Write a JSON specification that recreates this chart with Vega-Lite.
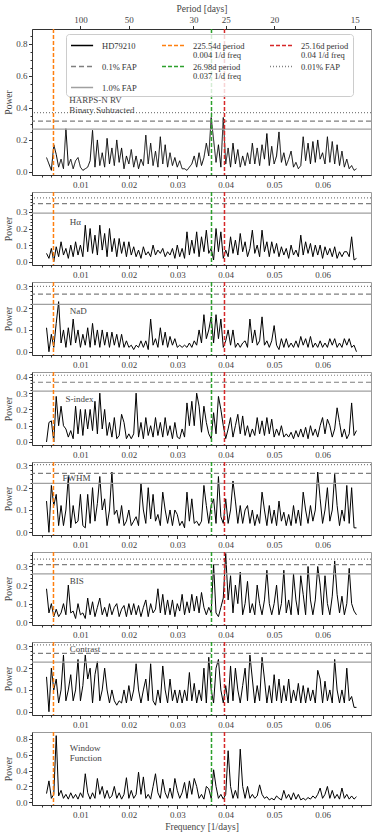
{
"$schema":"https://vega.github.io/schema/vega-lite/v6.json",
"padding":{"left":3,"top":2,"right":2,"bottom":4},
"datasets":{
"pg":[
{"f":0.003,"rv":0.09,"ha":0.05,"na":0.11,"si":0,"fw":0.14,"bi":0.18,"co":0.16,"wf":0.11},
{"f":0.0035,"rv":0.05,"ha":0.02,"na":0,"si":0.12,"fw":0,"bi":0.05,"co":0,"wf":0.27},
{"f":0.004,"rv":0.01,"ha":0.08,"na":0.08,"si":0.13,"fw":0.21,"bi":0.1,"co":0.2,"wf":0.05},
{"f":0.0045,"rv":0.17,"ha":0,"na":0.02,"si":0,"fw":0.12,"bi":0.03,"co":0.1,"wf":0.1},
{"f":0.005,"rv":0.11,"ha":0.09,"na":0.13,"si":0.28,"fw":0.17,"bi":0.07,"co":0.15,"wf":0.84},
{"f":0.0055,"rv":0.03,"ha":0.03,"na":0.23,"si":0.1,"fw":0.03,"bi":0.03,"co":0.04,"wf":0.08},
{"f":0.006,"rv":0.08,"ha":0.12,"na":0.04,"si":0.22,"fw":0.12,"bi":0.05,"co":0.1,"wf":0.15},
{"f":0.0065,"rv":0.02,"ha":0.04,"na":0.1,"si":0.1,"fw":0.03,"bi":0.1,"co":0.26,"wf":0.05},
{"f":0.007,"rv":0.27,"ha":0.08,"na":0.02,"si":0.08,"fw":0.1,"bi":0.04,"co":0.05,"wf":0.1},
{"f":0.0075,"rv":0.04,"ha":0.02,"na":0.11,"si":0.03,"fw":0.25,"bi":0.2,"co":0.1,"wf":0.04},
{"f":0.008,"rv":0.08,"ha":0.1,"na":0.03,"si":0.07,"fw":0.02,"bi":0.05,"co":0.17,"wf":0.12},
{"f":0.0085,"rv":0.02,"ha":0.03,"na":0.15,"si":0.02,"fw":0.12,"bi":0.06,"co":0.05,"wf":0.05},
{"f":0.009,"rv":0.07,"ha":0.12,"na":0.04,"si":0.22,"fw":0.04,"bi":0.02,"co":0.1,"wf":0.1},
{"f":0.0095,"rv":0.09,"ha":0.04,"na":0.1,"si":0.05,"fw":0.05,"bi":0.1,"co":0.24,"wf":0.04},
{"f":0.01,"rv":0.03,"ha":0.1,"na":0.02,"si":0.2,"fw":0.17,"bi":0.04,"co":0.05,"wf":0.12},
{"f":0.0105,"rv":0.01,"ha":0.03,"na":0.08,"si":0.04,"fw":0.03,"bi":0.05,"co":0.12,"wf":0.06},
{"f":0.011,"rv":0.02,"ha":0.22,"na":0.03,"si":0.2,"fw":0.02,"bi":0.02,"co":0.26,"wf":0.36},
{"f":0.0115,"rv":0.03,"ha":0.06,"na":0.11,"si":0.08,"fw":0.17,"bi":0.13,"co":0.15,"wf":0.12},
{"f":0.012,"rv":0.07,"ha":0.2,"na":0.02,"si":0.2,"fw":0.04,"bi":0.04,"co":0.2,"wf":0.04},
{"f":0.0125,"rv":0.26,"ha":0.05,"na":0.13,"si":0.07,"fw":0.2,"bi":0.11,"co":0.04,"wf":0.12},
{"f":0.013,"rv":0.03,"ha":0.16,"na":0.03,"si":0.25,"fw":0.05,"bi":0.03,"co":0.17,"wf":0.05},
{"f":0.0135,"rv":0.2,"ha":0.04,"na":0.1,"si":0.05,"fw":0.13,"bi":0.08,"co":0.23,"wf":0.3},
{"f":0.014,"rv":0.04,"ha":0.22,"na":0.02,"si":0.3,"fw":0.25,"bi":0.13,"co":0.05,"wf":0.1},
{"f":0.0145,"rv":0.12,"ha":0.07,"na":0.1,"si":0.08,"fw":0.1,"bi":0.04,"co":0.1,"wf":0.2},
{"f":0.015,"rv":0.03,"ha":0.17,"na":0.03,"si":0.2,"fw":0.15,"bi":0.08,"co":0.2,"wf":0.05},
{"f":0.0155,"rv":0.21,"ha":0.03,"na":0.09,"si":0.04,"fw":0.03,"bi":0.03,"co":0.1,"wf":0.15},
{"f":0.016,"rv":0.05,"ha":0.2,"na":0.02,"si":0.12,"fw":0.1,"bi":0.1,"co":0.04,"wf":0.05},
{"f":0.0165,"rv":0.15,"ha":0.06,"na":0.09,"si":0.03,"fw":0.27,"bi":0.04,"co":0.1,"wf":0.08},
{"f":0.017,"rv":0.04,"ha":0.14,"na":0.03,"si":0.15,"fw":0.08,"bi":0.08,"co":0.05,"wf":0.2},
{"f":0.0175,"rv":0.2,"ha":0.03,"na":0.08,"si":0.02,"fw":0.1,"bi":0.1,"co":0.03,"wf":0.05},
{"f":0.018,"rv":0.06,"ha":0.14,"na":0.02,"si":0.04,"fw":0.04,"bi":0.03,"co":0.05,"wf":0.12},
{"f":0.0185,"rv":0.15,"ha":0.05,"na":0.08,"si":0.17,"fw":0.12,"bi":0.07,"co":0.04,"wf":0.04},
{"f":0.019,"rv":0.02,"ha":0.12,"na":0.02,"si":0.12,"fw":0.03,"bi":0.09,"co":0.1,"wf":0.1},
{"f":0.0195,"rv":0.1,"ha":0.03,"na":0.05,"si":0.02,"fw":0.05,"bi":0.03,"co":0.04,"wf":0.31},
{"f":0.02,"rv":0.05,"ha":0.12,"na":0.02,"si":0.05,"fw":0.1,"bi":0.1,"co":0.12,"wf":0.05},
{"f":0.0205,"rv":0.14,"ha":0.04,"na":0.03,"si":0.02,"fw":0.03,"bi":0.04,"co":0.05,"wf":0.15},
{"f":0.021,"rv":0.03,"ha":0.09,"na":0.01,"si":0.05,"fw":0.05,"bi":0.1,"co":0.1,"wf":0.05},
{"f":0.0215,"rv":0.1,"ha":0.03,"na":0.03,"si":0.3,"fw":0.07,"bi":0.04,"co":0.22,"wf":0.1},
{"f":0.022,"rv":0.02,"ha":0.07,"na":0.02,"si":0.03,"fw":0.03,"bi":0.09,"co":0.1,"wf":0.38},
{"f":0.0225,"rv":0.08,"ha":0.02,"na":0.05,"si":0.12,"fw":0.22,"bi":0.03,"co":0.04,"wf":0.1},
{"f":0.023,"rv":0.04,"ha":0.09,"na":0.02,"si":0.02,"fw":0.1,"bi":0.08,"co":0.1,"wf":0.32},
{"f":0.0235,"rv":0.23,"ha":0.04,"na":0.05,"si":0.15,"fw":0.04,"bi":0.12,"co":0.15,"wf":0.05},
{"f":0.024,"rv":0.05,"ha":0.06,"na":0.01,"si":0.04,"fw":0.2,"bi":0.03,"co":0.05,"wf":0.1},
{"f":0.0245,"rv":0.18,"ha":0.03,"na":0.15,"si":0.1,"fw":0.06,"bi":0.1,"co":0.22,"wf":0.04},
{"f":0.025,"rv":0.04,"ha":0.1,"na":0.03,"si":0.03,"fw":0.17,"bi":0.05,"co":0.05,"wf":0.2},
{"f":0.0255,"rv":0.13,"ha":0.04,"na":0.06,"si":0.15,"fw":0.05,"bi":0.07,"co":0.03,"wf":0.36},
{"f":0.026,"rv":0.03,"ha":0.07,"na":0.02,"si":0.04,"fw":0.08,"bi":0.18,"co":0.1,"wf":0.12},
{"f":0.0265,"rv":0.22,"ha":0.05,"na":0.11,"si":0.12,"fw":0.03,"bi":0.05,"co":0.04,"wf":0.05},
{"f":0.027,"rv":0.05,"ha":0.08,"na":0.03,"si":0.03,"fw":0.18,"bi":0.15,"co":0.21,"wf":0.29},
{"f":0.0275,"rv":0.17,"ha":0.03,"na":0.09,"si":0.15,"fw":0.1,"bi":0.04,"co":0.1,"wf":0.12},
{"f":0.028,"rv":0.03,"ha":0.06,"na":0.02,"si":0.04,"fw":0.04,"bi":0.12,"co":0.04,"wf":0.05},
{"f":0.0285,"rv":0.12,"ha":0.04,"na":0.07,"si":0.1,"fw":0.1,"bi":0.04,"co":0.15,"wf":0.18},
{"f":0.029,"rv":0.04,"ha":0.08,"na":0.03,"si":0.02,"fw":0.03,"bi":0.12,"co":0.05,"wf":0.05},
{"f":0.0295,"rv":0.09,"ha":0.02,"na":0.06,"si":0.12,"fw":0.1,"bi":0.03,"co":0.1,"wf":0.3},
{"f":0.03,"rv":0.03,"ha":0.1,"na":0.02,"si":0.03,"fw":0.08,"bi":0.1,"co":0.04,"wf":0.15},
{"f":0.0305,"rv":0.07,"ha":0.03,"na":0.03,"si":0.02,"fw":0.03,"bi":0.06,"co":0.1,"wf":0.05},
{"f":0.031,"rv":0.02,"ha":0.08,"na":0.02,"si":0.08,"fw":0.05,"bi":0.15,"co":0.04,"wf":0.12},
{"f":0.0315,"rv":0.02,"ha":0.02,"na":0.03,"si":0.03,"fw":0.02,"bi":0.04,"co":0.1,"wf":0.25},
{"f":0.032,"rv":0.01,"ha":0.18,"na":0.02,"si":0.24,"fw":0.18,"bi":0.11,"co":0.05,"wf":0.05},
{"f":0.0325,"rv":0.03,"ha":0.04,"na":0.04,"si":0.1,"fw":0.05,"bi":0.05,"co":0.18,"wf":0.27},
{"f":0.033,"rv":0.05,"ha":0.13,"na":0.02,"si":0.25,"fw":0.15,"bi":0.15,"co":0.05,"wf":0.1},
{"f":0.0335,"rv":0.1,"ha":0.05,"na":0.05,"si":0.1,"fw":0.04,"bi":0.06,"co":0.13,"wf":0.3},
{"f":0.034,"rv":0.03,"ha":0.18,"na":0.03,"si":0.3,"fw":0.05,"bi":0.14,"co":0.04,"wf":0.2},
{"f":0.0345,"rv":0.12,"ha":0.03,"na":0.1,"si":0.22,"fw":0.03,"bi":0.05,"co":0.1,"wf":0.05},
{"f":0.035,"rv":0.04,"ha":0.15,"na":0.04,"si":0.06,"fw":0.05,"bi":0.16,"co":0.05,"wf":0.1},
{"f":0.0355,"rv":0.09,"ha":0.06,"na":0.17,"si":0.22,"fw":0.21,"bi":0.08,"co":0.2,"wf":0.04},
{"f":0.036,"rv":0.18,"ha":0.19,"na":0.06,"si":0.12,"fw":0.12,"bi":0.04,"co":0.04,"wf":0.2},
{"f":0.0365,"rv":0.1,"ha":0.05,"na":0.1,"si":0.05,"fw":0.04,"bi":0.08,"co":0.25,"wf":0.17},
{"f":0.037,"rv":0.34,"ha":0.08,"na":0.16,"si":0.02,"fw":0.12,"bi":0.05,"co":0.1,"wf":0.05},
{"f":0.0375,"rv":0.2,"ha":0.01,"na":0.04,"si":0.18,"fw":0.15,"bi":0.31,"co":0.04,"wf":0.41},
{"f":0.038,"rv":0.06,"ha":0.2,"na":0.17,"si":0.05,"fw":0.04,"bi":0.05,"co":0.2,"wf":0.2},
{"f":0.0385,"rv":0.17,"ha":0.06,"na":0.06,"si":0.28,"fw":0.25,"bi":0.03,"co":0.24,"wf":0.05},
{"f":0.039,"rv":0.03,"ha":0.18,"na":0.15,"si":0.2,"fw":0.07,"bi":0.08,"co":0.1,"wf":0.1},
{"f":0.0395,"rv":0.34,"ha":0.02,"na":0.02,"si":0.1,"fw":0.04,"bi":0.13,"co":0.04,"wf":0.04},
{"f":0.04,"rv":0.05,"ha":0.07,"na":0.05,"si":0.02,"fw":0.15,"bi":0.37,"co":0.12,"wf":0.1},
{"f":0.0405,"rv":0.15,"ha":0.03,"na":0.1,"si":0.08,"fw":0.04,"bi":0.12,"co":0.04,"wf":0.65},
{"f":0.041,"rv":0.03,"ha":0.15,"na":0.03,"si":0.15,"fw":0.1,"bi":0.25,"co":0.21,"wf":0.2},
{"f":0.0415,"rv":0.18,"ha":0.05,"na":0.1,"si":0.03,"fw":0.23,"bi":0.05,"co":0.05,"wf":0.05},
{"f":0.042,"rv":0.05,"ha":0.13,"na":0.02,"si":0.1,"fw":0.14,"bi":0.2,"co":0.2,"wf":0.15},
{"f":0.0425,"rv":0.14,"ha":0.04,"na":0.04,"si":0.17,"fw":0.04,"bi":0.1,"co":0.1,"wf":0.05},
{"f":0.043,"rv":0.03,"ha":0.17,"na":0.02,"si":0.05,"fw":0.12,"bi":0.27,"co":0.04,"wf":0.67},
{"f":0.0435,"rv":0.1,"ha":0.06,"na":0.04,"si":0.16,"fw":0.04,"bi":0.04,"co":0.12,"wf":0.2},
{"f":0.044,"rv":0.04,"ha":0.12,"na":0.05,"si":0.04,"fw":0.1,"bi":0.1,"co":0.2,"wf":0.05},
{"f":0.0445,"rv":0.12,"ha":0.03,"na":0.02,"si":0.1,"fw":0.12,"bi":0.22,"co":0.05,"wf":0.2},
{"f":0.045,"rv":0.05,"ha":0.08,"na":0.15,"si":0.03,"fw":0.04,"bi":0.05,"co":0.26,"wf":0.05},
{"f":0.0455,"rv":0.18,"ha":0.19,"na":0.04,"si":0.08,"fw":0.1,"bi":0.1,"co":0.15,"wf":0.1},
{"f":0.046,"rv":0.05,"ha":0.05,"na":0.1,"si":0.04,"fw":0.03,"bi":0.04,"co":0.04,"wf":0.05},
{"f":0.0465,"rv":0.15,"ha":0.1,"na":0.03,"si":0.15,"fw":0.08,"bi":0.2,"co":0.12,"wf":0.08},
{"f":0.047,"rv":0.04,"ha":0.03,"na":0.05,"si":0.05,"fw":0.04,"bi":0.1,"co":0.05,"wf":0.22},
{"f":0.0475,"rv":0.17,"ha":0.19,"na":0.16,"si":0.13,"fw":0.18,"bi":0.04,"co":0.25,"wf":0.1},
{"f":0.048,"rv":0.08,"ha":0.06,"na":0.03,"si":0.04,"fw":0.1,"bi":0.12,"co":0.15,"wf":0.05},
{"f":0.0485,"rv":0.24,"ha":0.12,"na":0.05,"si":0.15,"fw":0.03,"bi":0.28,"co":0.04,"wf":0.07},
{"f":0.049,"rv":0.04,"ha":0.03,"na":0.02,"si":0.05,"fw":0.12,"bi":0.1,"co":0.12,"wf":0.03},
{"f":0.0495,"rv":0.16,"ha":0.12,"na":0.05,"si":0.14,"fw":0.04,"bi":0.04,"co":0.04,"wf":0.05},
{"f":0.05,"rv":0.05,"ha":0.05,"na":0.12,"si":0.03,"fw":0.1,"bi":0.1,"co":0.17,"wf":0.03},
{"f":0.0505,"rv":0.1,"ha":0.11,"na":0.03,"si":0.08,"fw":0.03,"bi":0.2,"co":0.05,"wf":0.08},
{"f":0.051,"rv":0.25,"ha":0.03,"na":0.01,"si":0.04,"fw":0.14,"bi":0.04,"co":0.15,"wf":0.05},
{"f":0.0515,"rv":0.06,"ha":0.09,"na":0.06,"si":0.1,"fw":0.05,"bi":0.1,"co":0.04,"wf":0.03},
{"f":0.052,"rv":0.12,"ha":0.04,"na":0.02,"si":0.03,"fw":0.09,"bi":0.28,"co":0.12,"wf":0.15},
{"f":0.0525,"rv":0.04,"ha":0.08,"na":0.06,"si":0.05,"fw":0.03,"bi":0.05,"co":0.05,"wf":0.05},
{"f":0.053,"rv":0.08,"ha":0.02,"na":0.02,"si":0.03,"fw":0.08,"bi":0.12,"co":0.15,"wf":0.1},
{"f":0.0535,"rv":0.13,"ha":0.1,"na":0.04,"si":0.06,"fw":0.03,"bi":0.04,"co":0.04,"wf":0.03},
{"f":0.054,"rv":0.03,"ha":0.04,"na":0.02,"si":0.02,"fw":0.12,"bi":0.26,"co":0.1,"wf":0.12},
{"f":0.0545,"rv":0.06,"ha":0.07,"na":0.05,"si":0.07,"fw":0.04,"bi":0.12,"co":0.05,"wf":0.04},
{"f":0.055,"rv":0.02,"ha":0.03,"na":0.02,"si":0.03,"fw":0.1,"bi":0.04,"co":0.13,"wf":0.1},
{"f":0.0555,"rv":0.04,"ha":0.16,"na":0.07,"si":0.08,"fw":0.03,"bi":0.25,"co":0.04,"wf":0.03},
{"f":0.056,"rv":0.22,"ha":0.04,"na":0.03,"si":0.03,"fw":0.18,"bi":0.15,"co":0.12,"wf":0.05},
{"f":0.0565,"rv":0.07,"ha":0.12,"na":0.06,"si":0.09,"fw":0.1,"bi":0.04,"co":0.04,"wf":0.03},
{"f":0.057,"rv":0.18,"ha":0.05,"na":0.02,"si":0.02,"fw":0.04,"bi":0.3,"co":0.11,"wf":0.06},
{"f":0.0575,"rv":0.05,"ha":0.11,"na":0.07,"si":0.1,"fw":0.12,"bi":0.12,"co":0.05,"wf":0.04},
{"f":0.058,"rv":0.19,"ha":0.03,"na":0.02,"si":0.04,"fw":0.05,"bi":0.04,"co":0.1,"wf":0.08},
{"f":0.0585,"rv":0.06,"ha":0.1,"na":0.04,"si":0.08,"fw":0.1,"bi":0.12,"co":0.04,"wf":0.05},
{"f":0.059,"rv":0.2,"ha":0.04,"na":0.02,"si":0.03,"fw":0.27,"bi":0.3,"co":0.19,"wf":0.1},
{"f":0.0595,"rv":0.08,"ha":0.1,"na":0.05,"si":0.1,"fw":0.15,"bi":0.2,"co":0.15,"wf":0.18},
{"f":0.06,"rv":0.12,"ha":0.02,"na":0.02,"si":0.15,"fw":0.04,"bi":0.04,"co":0.04,"wf":0.05},
{"f":0.0605,"rv":0.05,"ha":0.09,"na":0.04,"si":0.05,"fw":0.1,"bi":0.25,"co":0.14,"wf":0.1},
{"f":0.061,"rv":0.22,"ha":0.04,"na":0.02,"si":0.14,"fw":0.2,"bi":0.1,"co":0.05,"wf":0.2},
{"f":0.0615,"rv":0.06,"ha":0.08,"na":0.06,"si":0.1,"fw":0.05,"bi":0.04,"co":0.1,"wf":0.05},
{"f":0.062,"rv":0.19,"ha":0.03,"na":0.03,"si":0.03,"fw":0.1,"bi":0.14,"co":0.04,"wf":0.15},
{"f":0.0625,"rv":0.05,"ha":0.09,"na":0.06,"si":0.08,"fw":0.26,"bi":0.33,"co":0.24,"wf":0.05},
{"f":0.063,"rv":0.17,"ha":0.02,"na":0.02,"si":0.21,"fw":0.12,"bi":0.15,"co":0.1,"wf":0.1},
{"f":0.0635,"rv":0.04,"ha":0.06,"na":0.04,"si":0.12,"fw":0.03,"bi":0.05,"co":0.04,"wf":0.04},
{"f":0.064,"rv":0.13,"ha":0.03,"na":0.02,"si":0.03,"fw":0.1,"bi":0.14,"co":0.1,"wf":0.18},
{"f":0.0645,"rv":0.03,"ha":0.06,"na":0.06,"si":0.08,"fw":0.05,"bi":0.04,"co":0.04,"wf":0.05},
{"f":0.065,"rv":0.08,"ha":0.06,"na":0.03,"si":0.02,"fw":0.21,"bi":0.1,"co":0.2,"wf":0.1},
{"f":0.0655,"rv":0.02,"ha":0.03,"na":0.06,"si":0.05,"fw":0.04,"bi":0.29,"co":0.05,"wf":0.04},
{"f":0.066,"rv":0.04,"ha":0.15,"na":0.02,"si":0.24,"fw":0.2,"bi":0.1,"co":0.07,"wf":0.08},
{"f":0.0665,"rv":0.01,"ha":0.01,"na":0.03,"si":0.04,"fw":0.02,"bi":0.06,"co":0.02,"wf":0.04},
{"f":0.067,"rv":0.02,"ha":0.02,"na":0,"si":0.07,"fw":0.02,"bi":0.04,"co":0.02,"wf":0.07}
],
"fap":[
{"p":"rv","s":"0.01% FAP","y":0.371},{"p":"rv","s":"0.1% FAP","y":0.318},{"p":"rv","s":"1.0% FAP","y":0.267},
{"p":"ha","s":"0.01% FAP","y":0.385},{"p":"ha","s":"0.1% FAP","y":0.35},{"p":"ha","s":"1.0% FAP","y":0.293},
{"p":"na","s":"0.01% FAP","y":0.3},{"p":"na","s":"0.1% FAP","y":0.264},{"p":"na","s":"1.0% FAP","y":0.217},
{"p":"si","s":"0.01% FAP","y":0.41},{"p":"si","s":"0.1% FAP","y":0.367},{"p":"si","s":"1.0% FAP","y":0.313},
{"p":"fw","s":"0.01% FAP","y":0.303},{"p":"fw","s":"0.1% FAP","y":0.264},{"p":"fw","s":"1.0% FAP","y":0.219},
{"p":"bi","s":"0.01% FAP","y":0.34},{"p":"bi","s":"0.1% FAP","y":0.31},{"p":"bi","s":"1.0% FAP","y":0.26},
{"p":"co","s":"0.01% FAP","y":0.307},{"p":"co","s":"0.1% FAP","y":0.268},{"p":"co","s":"1.0% FAP","y":0.228}
],
"vl":[
{"f":0.004434,"s":"225.54d period|0.004 1/d freq"},
{"f":0.037064,"s":"26.98d period|0.037 1/d freq"},
{"f":0.039746,"s":"25.16d period|0.04 1/d freq"}
],
"lab":[
{"p":"rv","f":0.0077,"y":0.474,"t":"HARPS-N RV|Binary Subtracted"},
{"p":"ha","f":0.0078,"y":0.263,"t":"Hα"},
{"p":"na","f":0.0078,"y":0.204,"t":"NaD"},
{"p":"si","f":0.0069,"y":0.291,"t":"S-index"},
{"p":"fw","f":0.0063,"y":0.263,"t":"FWHM"},
{"p":"bi","f":0.0078,"y":0.244,"t":"BIS"},
{"p":"co","f":0.0078,"y":0.305,"t":"Contrast"},
{"p":"wf","f":0.0078,"y":0.73,"t":"Window|Function"}
]
},
"spacing":17,
"bounds":"flush",
"vconcat":[
{"width":339,"height":146,
 "resolve":{"axis":{"x":"independent","y":"independent"}},
 "layer":[
  {"data":{"name":"pg"},"mark":{"type":"line","strokeWidth":1},
   "encoding":{"x":{"field":"f","type":"quantitative","scale":{"domain":[0,0.07],"nice":false,"zero":false},"axis":{"orient":"bottom","values":[0.01,0.02,0.03,0.04,0.05,0.06],"format":".2f","title":null}},
    "y":{"field":"rv","type":"quantitative","scale":{"domain":[-0.019,0.893],"nice":false,"zero":false},"axis":{"orient":"left","values":[0,0.2,0.4,0.6,0.8],"format":".1f","title":"Power"}},
    "color":{"datum":"HD79210","type":"nominal"},
    "strokeDash":{"datum":"HD79210","type":"nominal"}}},
  {"data":{"name":"pg"},"mark":{"type":"point","opacity":0},
   "encoding":{"x":{"field":"f","type":"quantitative","axis":{"orient":"bottom","values":[0.002,0.004,0.006,0.008,0.012,0.014,0.016,0.018,0.022,0.024,0.026,0.028,0.032,0.034,0.036,0.038,0.042,0.044,0.046,0.048,0.052,0.054,0.056,0.058,0.062,0.064,0.066,0.068],"labels":false,"tickSize":2,"domain":false,"title":null}},
    "y":{"field":"rv","type":"quantitative","axis":{"orient":"left","values":[0.05,0.1,0.15,0.25,0.3,0.35,0.45,0.5,0.55,0.65,0.7,0.75,0.85],"labels":false,"tickSize":2,"domain":false,"title":null}}}},
  {"data":{"name":"fap"},"transform":[{"filter":"datum.p=='rv'"}],"mark":{"type":"rule","strokeWidth":1.2},
   "encoding":{"y":{"field":"y","type":"quantitative","axis":null},
    "color":{"field":"s","type":"nominal","scale":{"domain":["HD79210","225.54d period|0.004 1/d freq","25.16d period|0.04 1/d freq","0.1% FAP","26.98d period|0.037 1/d freq","0.01% FAP","1.0% FAP"],"range":["#000000","#ff7f0e","#d62728","#7f7f7f","#2ca02c","#7f7f7f","#a0a0a0"]},
      "legend":{"title":null,"orient":"none","legendX":34,"legendY":5,"columns":3,"gridAlign":"none","values":["HD79210","0.1% FAP","0.01% FAP","225.54d period|0.004 1/d freq","26.98d period|0.037 1/d freq","1.0% FAP","25.16d period|0.04 1/d freq"],"symbolType":"M-1,0H2.4","symbolSize":169,"symbolStrokeWidth":1.5,"labelExpr":"split(datum.label,'|')","labelFontSize":8.5,"labelFont":"Liberation Serif","labelColor":"#333","fillColor":"rgba(255,255,255,0.8)","strokeColor":"#cccccc","cornerRadius":3,"padding":4,"rowPadding":0,"columnPadding":22,"labelOffset":17}},
    "strokeDash":{"field":"s","type":"nominal","scale":{"domain":["HD79210","225.54d period|0.004 1/d freq","25.16d period|0.04 1/d freq","0.1% FAP","26.98d period|0.037 1/d freq","0.01% FAP","1.0% FAP"],"range":[[1,0],[4,2],[4,2],[5,3],[4,2],[1,2],[1,0]]},
      "legend":{"title":null,"orient":"none","legendX":34,"legendY":5,"columns":3,"gridAlign":"none","values":["HD79210","0.1% FAP","0.01% FAP","225.54d period|0.004 1/d freq","26.98d period|0.037 1/d freq","1.0% FAP","25.16d period|0.04 1/d freq"],"symbolType":"M-1,0H2.4","symbolSize":169,"symbolStrokeWidth":1.5,"labelExpr":"split(datum.label,'|')","labelFontSize":8.5,"labelFont":"Liberation Serif","labelColor":"#333","fillColor":"rgba(255,255,255,0.8)","strokeColor":"#cccccc","cornerRadius":3,"padding":4,"rowPadding":0,"columnPadding":22,"labelOffset":17}}}},
  {"data":{"name":"vl"},"mark":{"type":"rule","strokeWidth":1.5},
   "encoding":{"x":{"field":"f","type":"quantitative","axis":{"orient":"top","values":[0.01,0.02,0.0333333,0.04,0.05,0.0666667],"labelExpr":"format(1/datum.value,'.0f')","title":"Period [days]"}},
    "color":{"field":"s","type":"nominal"},"strokeDash":{"field":"s","type":"nominal"}}},
  {"data":{"name":"lab"},"transform":[{"filter":"datum.p=='rv'"}],"mark":{"type":"text","align":"left","baseline":"top","fontSize":9,"color":"#444","lineBreak":"|","lineHeight":9.5},
   "encoding":{"x":{"field":"f","type":"quantitative","axis":null},"y":{"field":"y","type":"quantitative","axis":null},"text":{"field":"t"}}}
 ]},
{"width":339,"height":73,
 "resolve":{"axis":{"x":"independent","y":"independent"}},
 "layer":[
  {"data":{"name":"pg"},"mark":{"type":"line","strokeWidth":1,"color":"black"},
   "encoding":{"x":{"field":"f","type":"quantitative","scale":{"domain":[0,0.07],"nice":false,"zero":false},"axis":{"orient":"bottom","values":[0.01,0.02,0.03,0.04,0.05,0.06],"format":".2f","title":null}},
    "y":{"field":"ha","type":"quantitative","scale":{"domain":[-0.02,0.42],"nice":false,"zero":false},"axis":{"orient":"left","values":[0,0.1,0.2,0.3],"format":".1f","title":"Power"}}}},
  {"data":{"name":"pg"},"mark":{"type":"point","opacity":0},
   "encoding":{"x":{"field":"f","type":"quantitative","axis":{"orient":"bottom","values":[0.002,0.004,0.006,0.008,0.012,0.014,0.016,0.018,0.022,0.024,0.026,0.028,0.032,0.034,0.036,0.038,0.042,0.044,0.046,0.048,0.052,0.054,0.056,0.058,0.062,0.064,0.066,0.068],"labels":false,"tickSize":2,"domain":false,"title":null}},
    "y":{"field":"ha","type":"quantitative","axis":{"orient":"left","values":[0.02,0.04,0.06,0.08,0.12,0.14,0.16,0.18,0.22,0.24,0.26,0.28,0.32,0.34,0.36,0.38,0.4],"labels":false,"tickSize":2,"domain":false,"title":null}}}},
  {"data":{"name":"fap"},"transform":[{"filter":"datum.p=='ha'"}],"mark":{"type":"rule","strokeWidth":1.2},
   "encoding":{"y":{"field":"y","type":"quantitative","axis":null},"color":{"field":"s","type":"nominal","legend":null},"strokeDash":{"field":"s","type":"nominal","legend":null}}},
  {"data":{"name":"vl"},"mark":{"type":"rule","strokeWidth":1.5},
   "encoding":{"x":{"field":"f","type":"quantitative","axis":null},"color":{"field":"s","type":"nominal","legend":null},"strokeDash":{"field":"s","type":"nominal","legend":null}}},
  {"data":{"name":"lab"},"transform":[{"filter":"datum.p=='ha'"}],"mark":{"type":"text","align":"left","baseline":"top","fontSize":9,"color":"#444","lineBreak":"|","lineHeight":10},
   "encoding":{"x":{"field":"f","type":"quantitative","axis":null},"y":{"field":"y","type":"quantitative","axis":null},"text":{"field":"t"}}}
 ]},
{"width":339,"height":73,
 "resolve":{"axis":{"x":"independent","y":"independent"}},
 "layer":[
  {"data":{"name":"pg"},"mark":{"type":"line","strokeWidth":1,"color":"black"},
   "encoding":{"x":{"field":"f","type":"quantitative","scale":{"domain":[0,0.07],"nice":false,"zero":false},"axis":{"orient":"bottom","values":[0.01,0.02,0.03,0.04,0.05,0.06],"format":".2f","title":null}},
    "y":{"field":"na","type":"quantitative","scale":{"domain":[-0.015,0.32],"nice":false,"zero":false},"axis":{"orient":"left","values":[0,0.1,0.2,0.3],"format":".1f","title":"Power"}}}},
  {"data":{"name":"pg"},"mark":{"type":"point","opacity":0},
   "encoding":{"x":{"field":"f","type":"quantitative","axis":{"orient":"bottom","values":[0.002,0.004,0.006,0.008,0.012,0.014,0.016,0.018,0.022,0.024,0.026,0.028,0.032,0.034,0.036,0.038,0.042,0.044,0.046,0.048,0.052,0.054,0.056,0.058,0.062,0.064,0.066,0.068],"labels":false,"tickSize":2,"domain":false,"title":null}},
    "y":{"field":"na","type":"quantitative","axis":{"orient":"left","values":[0.02,0.04,0.06,0.08,0.12,0.14,0.16,0.18,0.22,0.24,0.26,0.28],"labels":false,"tickSize":2,"domain":false,"title":null}}}},
  {"data":{"name":"fap"},"transform":[{"filter":"datum.p=='na'"}],"mark":{"type":"rule","strokeWidth":1.2},
   "encoding":{"y":{"field":"y","type":"quantitative","axis":null},"color":{"field":"s","type":"nominal","legend":null},"strokeDash":{"field":"s","type":"nominal","legend":null}}},
  {"data":{"name":"vl"},"mark":{"type":"rule","strokeWidth":1.5},
   "encoding":{"x":{"field":"f","type":"quantitative","axis":null},"color":{"field":"s","type":"nominal","legend":null},"strokeDash":{"field":"s","type":"nominal","legend":null}}},
  {"data":{"name":"lab"},"transform":[{"filter":"datum.p=='na'"}],"mark":{"type":"text","align":"left","baseline":"top","fontSize":9,"color":"#444","lineBreak":"|","lineHeight":10},
   "encoding":{"x":{"field":"f","type":"quantitative","axis":null},"y":{"field":"y","type":"quantitative","axis":null},"text":{"field":"t"}}}
 ]},
{"width":339,"height":73,
 "resolve":{"axis":{"x":"independent","y":"independent"}},
 "layer":[
  {"data":{"name":"pg"},"mark":{"type":"line","strokeWidth":1,"color":"black"},
   "encoding":{"x":{"field":"f","type":"quantitative","scale":{"domain":[0,0.07],"nice":false,"zero":false},"axis":{"orient":"bottom","values":[0.01,0.02,0.03,0.04,0.05,0.06],"format":".2f","title":null}},
    "y":{"field":"si","type":"quantitative","scale":{"domain":[-0.0185,0.43],"nice":false,"zero":false},"axis":{"orient":"left","values":[0,0.1,0.2,0.3,0.4],"format":".1f","title":"Power"}}}},
  {"data":{"name":"pg"},"mark":{"type":"point","opacity":0},
   "encoding":{"x":{"field":"f","type":"quantitative","axis":{"orient":"bottom","values":[0.002,0.004,0.006,0.008,0.012,0.014,0.016,0.018,0.022,0.024,0.026,0.028,0.032,0.034,0.036,0.038,0.042,0.044,0.046,0.048,0.052,0.054,0.056,0.058,0.062,0.064,0.066,0.068],"labels":false,"tickSize":2,"domain":false,"title":null}},
    "y":{"field":"si","type":"quantitative","axis":{"orient":"left","values":[0.02,0.04,0.06,0.08,0.12,0.14,0.16,0.18,0.22,0.24,0.26,0.28,0.32,0.34,0.36,0.38,0.42],"labels":false,"tickSize":2,"domain":false,"title":null}}}},
  {"data":{"name":"fap"},"transform":[{"filter":"datum.p=='si'"}],"mark":{"type":"rule","strokeWidth":1.2},
   "encoding":{"y":{"field":"y","type":"quantitative","axis":null},"color":{"field":"s","type":"nominal","legend":null},"strokeDash":{"field":"s","type":"nominal","legend":null}}},
  {"data":{"name":"vl"},"mark":{"type":"rule","strokeWidth":1.5},
   "encoding":{"x":{"field":"f","type":"quantitative","axis":null},"color":{"field":"s","type":"nominal","legend":null},"strokeDash":{"field":"s","type":"nominal","legend":null}}},
  {"data":{"name":"lab"},"transform":[{"filter":"datum.p=='si'"}],"mark":{"type":"text","align":"left","baseline":"top","fontSize":9,"color":"#444","lineBreak":"|","lineHeight":10},
   "encoding":{"x":{"field":"f","type":"quantitative","axis":null},"y":{"field":"y","type":"quantitative","axis":null},"text":{"field":"t"}}}
 ]},
{"width":339,"height":73,
 "resolve":{"axis":{"x":"independent","y":"independent"}},
 "layer":[
  {"data":{"name":"pg"},"mark":{"type":"line","strokeWidth":1,"color":"black"},
   "encoding":{"x":{"field":"f","type":"quantitative","scale":{"domain":[0,0.07],"nice":false,"zero":false},"axis":{"orient":"bottom","values":[0.01,0.02,0.03,0.04,0.05,0.06],"format":".2f","title":null}},
    "y":{"field":"fw","type":"quantitative","scale":{"domain":[-0.012,0.315],"nice":false,"zero":false},"axis":{"orient":"left","values":[0,0.1,0.2,0.3],"format":".1f","title":"Power"}}}},
  {"data":{"name":"pg"},"mark":{"type":"point","opacity":0},
   "encoding":{"x":{"field":"f","type":"quantitative","axis":{"orient":"bottom","values":[0.002,0.004,0.006,0.008,0.012,0.014,0.016,0.018,0.022,0.024,0.026,0.028,0.032,0.034,0.036,0.038,0.042,0.044,0.046,0.048,0.052,0.054,0.056,0.058,0.062,0.064,0.066,0.068],"labels":false,"tickSize":2,"domain":false,"title":null}},
    "y":{"field":"fw","type":"quantitative","axis":{"orient":"left","values":[0.02,0.04,0.06,0.08,0.12,0.14,0.16,0.18,0.22,0.24,0.26,0.28],"labels":false,"tickSize":2,"domain":false,"title":null}}}},
  {"data":{"name":"fap"},"transform":[{"filter":"datum.p=='fw'"}],"mark":{"type":"rule","strokeWidth":1.2},
   "encoding":{"y":{"field":"y","type":"quantitative","axis":null},"color":{"field":"s","type":"nominal","legend":null},"strokeDash":{"field":"s","type":"nominal","legend":null}}},
  {"data":{"name":"vl"},"mark":{"type":"rule","strokeWidth":1.5},
   "encoding":{"x":{"field":"f","type":"quantitative","axis":null},"color":{"field":"s","type":"nominal","legend":null},"strokeDash":{"field":"s","type":"nominal","legend":null}}},
  {"data":{"name":"lab"},"transform":[{"filter":"datum.p=='fw'"}],"mark":{"type":"text","align":"left","baseline":"top","fontSize":9,"color":"#444","lineBreak":"|","lineHeight":10},
   "encoding":{"x":{"field":"f","type":"quantitative","axis":null},"y":{"field":"y","type":"quantitative","axis":null},"text":{"field":"t"}}}
 ]},
{"width":339,"height":73,
 "resolve":{"axis":{"x":"independent","y":"independent"}},
 "layer":[
  {"data":{"name":"pg"},"mark":{"type":"line","strokeWidth":1,"color":"black"},
   "encoding":{"x":{"field":"f","type":"quantitative","scale":{"domain":[0,0.07],"nice":false,"zero":false},"axis":{"orient":"bottom","values":[0.01,0.02,0.03,0.04,0.05,0.06],"format":".2f","title":null}},
    "y":{"field":"bi","type":"quantitative","scale":{"domain":[-0.015,0.378],"nice":false,"zero":false},"axis":{"orient":"left","values":[0,0.1,0.2,0.3],"format":".1f","title":"Power"}}}},
  {"data":{"name":"pg"},"mark":{"type":"point","opacity":0},
   "encoding":{"x":{"field":"f","type":"quantitative","axis":{"orient":"bottom","values":[0.002,0.004,0.006,0.008,0.012,0.014,0.016,0.018,0.022,0.024,0.026,0.028,0.032,0.034,0.036,0.038,0.042,0.044,0.046,0.048,0.052,0.054,0.056,0.058,0.062,0.064,0.066,0.068],"labels":false,"tickSize":2,"domain":false,"title":null}},
    "y":{"field":"bi","type":"quantitative","axis":{"orient":"left","values":[0.02,0.04,0.06,0.08,0.12,0.14,0.16,0.18,0.22,0.24,0.26,0.28,0.32,0.34,0.36],"labels":false,"tickSize":2,"domain":false,"title":null}}}},
  {"data":{"name":"fap"},"transform":[{"filter":"datum.p=='bi'"}],"mark":{"type":"rule","strokeWidth":1.2},
   "encoding":{"y":{"field":"y","type":"quantitative","axis":null},"color":{"field":"s","type":"nominal","legend":null},"strokeDash":{"field":"s","type":"nominal","legend":null}}},
  {"data":{"name":"vl"},"mark":{"type":"rule","strokeWidth":1.5},
   "encoding":{"x":{"field":"f","type":"quantitative","axis":null},"color":{"field":"s","type":"nominal","legend":null},"strokeDash":{"field":"s","type":"nominal","legend":null}}},
  {"data":{"name":"lab"},"transform":[{"filter":"datum.p=='bi'"}],"mark":{"type":"text","align":"left","baseline":"top","fontSize":9,"color":"#444","lineBreak":"|","lineHeight":10},
   "encoding":{"x":{"field":"f","type":"quantitative","axis":null},"y":{"field":"y","type":"quantitative","axis":null},"text":{"field":"t"}}}
 ]},
{"width":339,"height":73,
 "resolve":{"axis":{"x":"independent","y":"independent"}},
 "layer":[
  {"data":{"name":"pg"},"mark":{"type":"line","strokeWidth":1,"color":"black"},
   "encoding":{"x":{"field":"f","type":"quantitative","scale":{"domain":[0,0.07],"nice":false,"zero":false},"axis":{"orient":"bottom","values":[0.01,0.02,0.03,0.04,0.05,0.06],"format":".2f","title":null}},
    "y":{"field":"co","type":"quantitative","scale":{"domain":[-0.015,0.32],"nice":false,"zero":false},"axis":{"orient":"left","values":[0,0.1,0.2,0.3],"format":".1f","title":"Power"}}}},
  {"data":{"name":"pg"},"mark":{"type":"point","opacity":0},
   "encoding":{"x":{"field":"f","type":"quantitative","axis":{"orient":"bottom","values":[0.002,0.004,0.006,0.008,0.012,0.014,0.016,0.018,0.022,0.024,0.026,0.028,0.032,0.034,0.036,0.038,0.042,0.044,0.046,0.048,0.052,0.054,0.056,0.058,0.062,0.064,0.066,0.068],"labels":false,"tickSize":2,"domain":false,"title":null}},
    "y":{"field":"co","type":"quantitative","axis":{"orient":"left","values":[0.02,0.04,0.06,0.08,0.12,0.14,0.16,0.18,0.22,0.24,0.26,0.28],"labels":false,"tickSize":2,"domain":false,"title":null}}}},
  {"data":{"name":"fap"},"transform":[{"filter":"datum.p=='co'"}],"mark":{"type":"rule","strokeWidth":1.2},
   "encoding":{"y":{"field":"y","type":"quantitative","axis":null},"color":{"field":"s","type":"nominal","legend":null},"strokeDash":{"field":"s","type":"nominal","legend":null}}},
  {"data":{"name":"vl"},"mark":{"type":"rule","strokeWidth":1.5},
   "encoding":{"x":{"field":"f","type":"quantitative","axis":null},"color":{"field":"s","type":"nominal","legend":null},"strokeDash":{"field":"s","type":"nominal","legend":null}}},
  {"data":{"name":"lab"},"transform":[{"filter":"datum.p=='co'"}],"mark":{"type":"text","align":"left","baseline":"top","fontSize":9,"color":"#444","lineBreak":"|","lineHeight":10},
   "encoding":{"x":{"field":"f","type":"quantitative","axis":null},"y":{"field":"y","type":"quantitative","axis":null},"text":{"field":"t"}}}
 ]},
{"width":339,"height":73,
 "resolve":{"axis":{"x":"independent","y":"independent"}},
 "layer":[
  {"data":{"name":"pg"},"mark":{"type":"line","strokeWidth":1,"color":"black"},
   "encoding":{"x":{"field":"f","type":"quantitative","scale":{"domain":[0,0.07],"nice":false,"zero":false},"axis":{"orient":"bottom","values":[0.01,0.02,0.03,0.04,0.05,0.06],"format":".2f","title":"Frequency [1/days]"}},
    "y":{"field":"wf","type":"quantitative","scale":{"domain":[-0.034,0.886],"nice":false,"zero":false},"axis":{"orient":"left","values":[0,0.2,0.4,0.6,0.8],"format":".1f","title":"Power"}}}},
  {"data":{"name":"pg"},"mark":{"type":"point","opacity":0},
   "encoding":{"x":{"field":"f","type":"quantitative","axis":{"orient":"bottom","values":[0.002,0.004,0.006,0.008,0.012,0.014,0.016,0.018,0.022,0.024,0.026,0.028,0.032,0.034,0.036,0.038,0.042,0.044,0.046,0.048,0.052,0.054,0.056,0.058,0.062,0.064,0.066,0.068],"labels":false,"tickSize":2,"domain":false,"title":null}},
    "y":{"field":"wf","type":"quantitative","axis":{"orient":"left","values":[0.05,0.1,0.15,0.25,0.3,0.35,0.45,0.5,0.55,0.65,0.7,0.75,0.85],"labels":false,"tickSize":2,"domain":false,"title":null}}}},
  {"data":{"name":"vl"},"mark":{"type":"rule","strokeWidth":1.5},
   "encoding":{"x":{"field":"f","type":"quantitative","axis":null},"color":{"field":"s","type":"nominal","legend":null},"strokeDash":{"field":"s","type":"nominal","legend":null}}},
  {"data":{"name":"lab"},"transform":[{"filter":"datum.p=='wf'"}],"mark":{"type":"text","align":"left","baseline":"top","fontSize":9,"color":"#444","lineBreak":"|","lineHeight":10},
   "encoding":{"x":{"field":"f","type":"quantitative","axis":null},"y":{"field":"y","type":"quantitative","axis":null},"text":{"field":"t"}}}
 ]}
],
"config":{
 "font":"Liberation Serif",
 "view":{"stroke":"#999999","strokeWidth":1},
 "style":{"guide-label":{"lineHeight":9}},
 "axis":{"grid":false,"labelFont":"Liberation Serif","titleFont":"Liberation Serif","labelFontSize":9,"titleFontSize":9.5,"titleFontWeight":"normal","labelColor":"#444","titleColor":"#444","tickColor":"#333","domainColor":"#333","tickSize":3.5,"labelPadding":1.5,"titlePadding":2},
 "text":{"font":"Liberation Serif"}
}
}
